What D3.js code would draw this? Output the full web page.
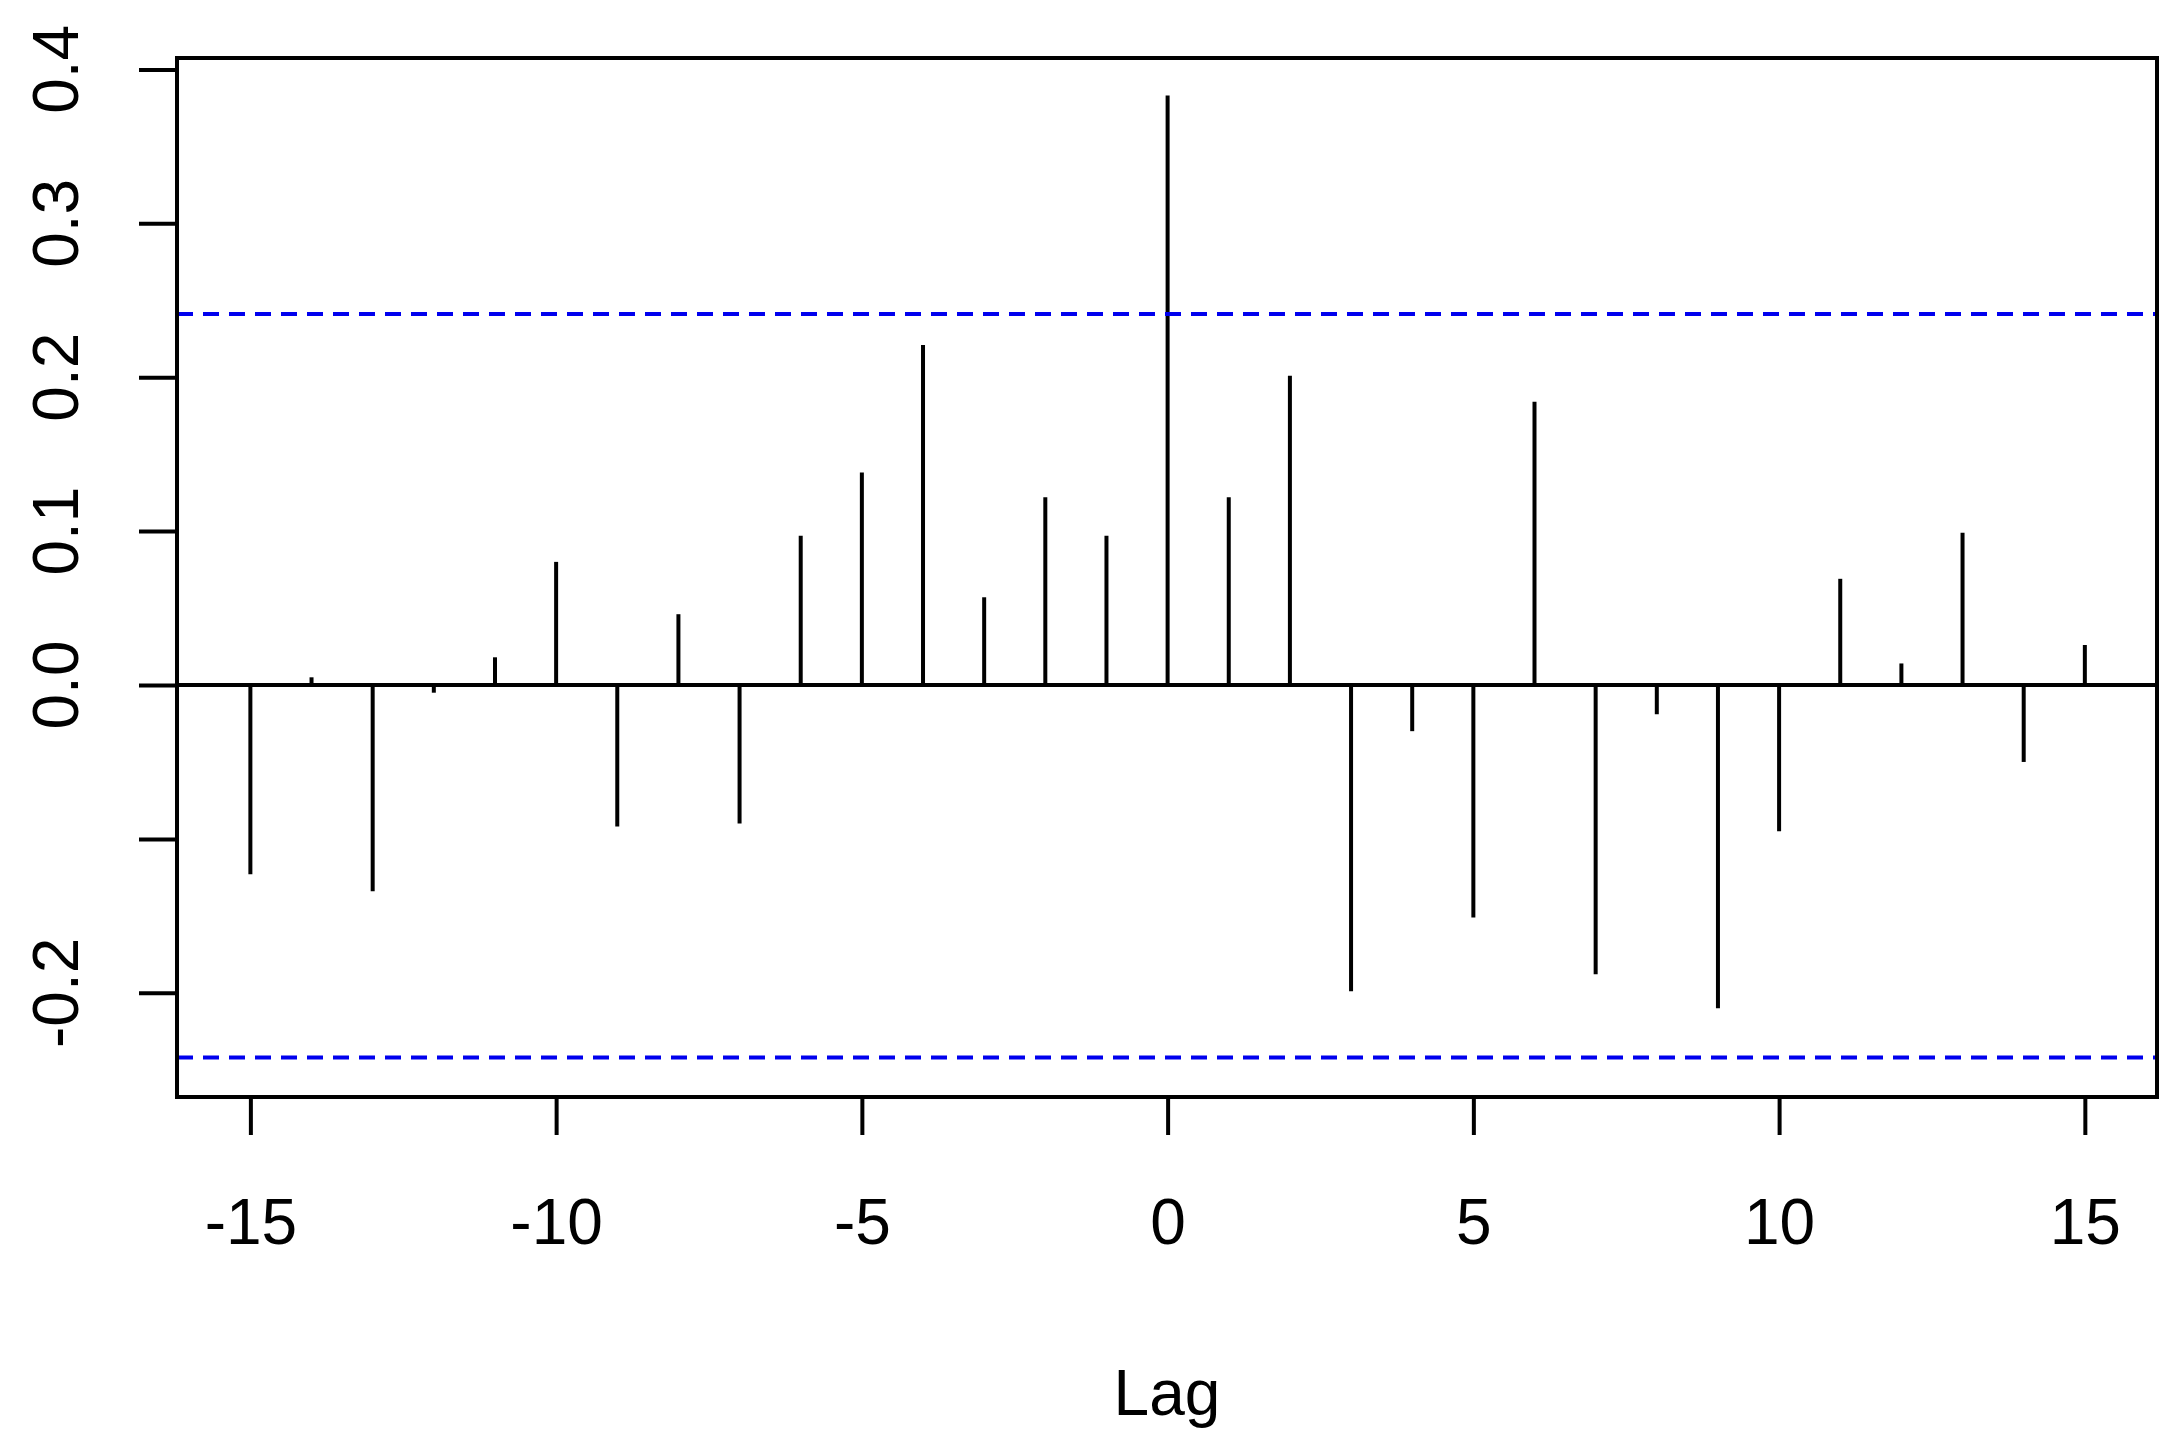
<!DOCTYPE html>
<html><head><meta charset="utf-8">
<script src="https://cdn.jsdelivr.net/npm/d3@7"></script>
<style>body{margin:0;background:#fff}</style>
</head><body>
<svg id="chart" width="2182" height="1448"></svg>
<script>
var lags = d3.range(-15, 16);
var acf = [-0.123, 0.005, -0.134, -0.005, 0.018, 0.080, -0.092, 0.046, -0.090, 0.097,
  0.138, 0.221, 0.057, 0.122, 0.097, 0.383, 0.122, 0.201, -0.199, -0.030,
  -0.151, 0.184, -0.188, -0.019, -0.210, -0.095, 0.069, 0.014, 0.099, -0.050, 0.026];
var ciBand = [0.241, -0.242];
var xTicks = [-15, -10, -5, 0, 5, 10, 15];
var yTicks = [-0.2, -0.1, 0.0, 0.1, 0.2, 0.3, 0.4];
var yLabels = {"-0.2": "-0.2", "0": "0.0", "0.1": "0.1", "0.2": "0.2", "0.3": "0.3", "0.4": "0.4"};

var L = 177, R = 2157, T = 58, B = 1097;
var sw = 4;
var svg = d3.select("#chart");
var x = d3.scaleLinear().domain([-16.2, 16.18]).range([L, R]);
var y = d3.scaleLinear().domain([-0.2677, 0.4074]).range([B, T]);
var font = "Arial, 'Liberation Sans', sans-serif";

// bars
svg.selectAll(".bar").data(lags).enter().append("line")
  .attr("x1", d => x(d)).attr("x2", d => x(d))
  .attr("y1", y(0)).attr("y2", (d, i) => y(acf[i]))
  .attr("stroke", "#000").attr("stroke-width", sw);

// zero line
svg.append("line").attr("x1", L).attr("x2", R).attr("y1", y(0)).attr("y2", y(0))
  .attr("stroke", "#000").attr("stroke-width", sw);

// confidence lines
ciBand.forEach(v => {
  svg.append("line").attr("x1", L).attr("x2", R).attr("y1", y(v)).attr("y2", y(v))
    .attr("stroke", "#0000ee").attr("stroke-width", sw).attr("stroke-dasharray", "16,10");
});

// box
svg.append("rect").attr("x", L).attr("y", T).attr("width", R - L).attr("height", B - T)
  .attr("fill", "none").attr("stroke", "#000").attr("stroke-width", sw);

// x axis
var xa = svg.append("g").attr("transform", "translate(0," + B + ")")
  .call(d3.axisBottom(x).tickValues(xTicks).tickSize(38).tickPadding(64).tickFormat(d3.format("d")));
xa.select(".domain").remove();
xa.selectAll("line").attr("stroke-width", sw);
xa.selectAll("text").attr("font-size", 64).attr("font-family", font).attr("fill", "#000")
  .text(d => d < 0 ? "-" + Math.abs(d) : d);

// y axis
var ya = svg.append("g").attr("transform", "translate(" + L + ",0)")
  .call(d3.axisLeft(y).tickValues(yTicks).tickSize(38).tickFormat(d => ""));
ya.select(".domain").remove();
ya.selectAll("line").attr("stroke-width", sw);
yTicks.forEach(v => {
  var lab = yLabels[String(+v.toFixed(1))];
  if (!lab) return;
  svg.append("text").attr("transform", "translate(78," + y(v) + ") rotate(-90)")
    .attr("text-anchor", "middle").attr("font-size", 64).attr("font-family", font)
    .attr("fill", "#000").text(lab);
});

svg.append("text").attr("x", (L + R) / 2).attr("y", 1415).attr("text-anchor", "middle")
  .attr("font-size", 64).attr("font-family", font).attr("fill", "#000").text("Lag");
</script>
</body></html>
